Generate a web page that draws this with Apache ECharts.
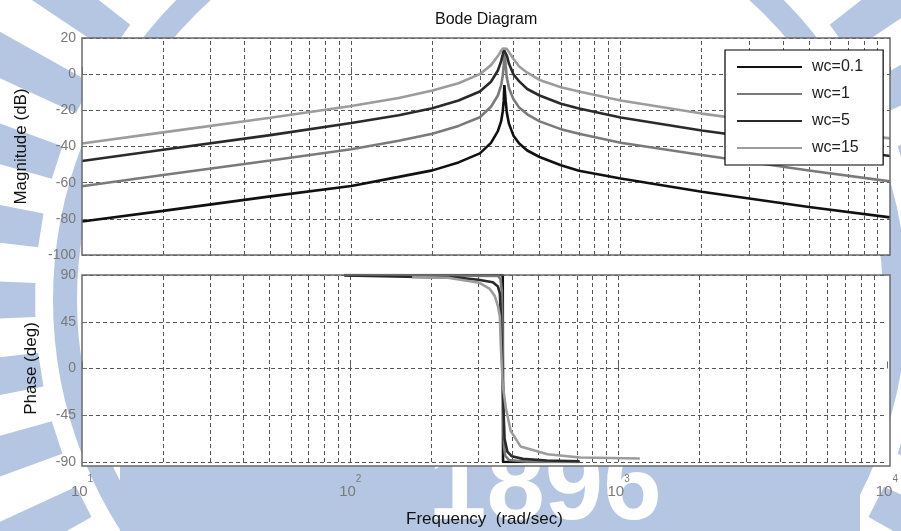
<!DOCTYPE html>
<html>
<head>
<meta charset="utf-8">
<title>Bode Diagram</title>
<script src="https://cdn.jsdelivr.net/npm/echarts@6/dist/echarts.min.js"></script>
<style>
  html, body { margin: 0; padding: 0; background: #fff; }
  #chart { width: 901px; height: 531px; }
</style>
</head>
<body>
<div id="chart"></div>
<script>
// legend names
var seriesNames = ['wc=0.1', 'wc=1', 'wc=5', 'wc=15'];
var seriesColors = ['#111111', '#7a7a7a', '#2a2a2a', '#9c9c9c'];

// dashed vertical grid at 2..9 of every decade (plus the decades)
var gridFreqs = [20, 30, 40, 50, 60, 70, 80, 90, 100,
                 200, 300, 400, 500, 600, 700, 800, 900, 1000,
                 2000, 3000, 4000, 5000, 6000, 7000, 8000, 9000];

// magnitude (dB), [freq rad/s, dB]
var magWc01 = [[10, -81.5], [20, -75.6], [50, -67.6], [100, -61.8], [150, -56.8], [200, -53.2],
               [250, -48.8], [300, -43.8], [330, -38], [350, -31.5], [360, -26], [365, -20.5],
               [368, -14.5], [370, -6], [372, -6], [374, -14.5], [378, -21.5], [385, -27.5],
               [400, -34], [420, -38.3], [450, -42.2], [500, -45.8], [600, -50.4], [700, -53.4],
               [1000, -57.7], [2000, -65], [5000, -73.5], [10000, -79.2]];
var magWc1 = [[10, -62], [20, -55.8], [50, -47.7], [100, -41.5], [150, -36.8], [200, -33],
              [250, -28.6], [300, -23.8], [330, -18], [350, -11.8], [360, -6], [365, -0.8],
              [368, 5], [370, 11], [371, 13], [372, 11], [374, 5], [378, -2], [385, -7.8],
              [400, -13.9], [420, -18.5], [450, -22.2], [500, -26.1], [600, -30.4], [700, -33],
              [1000, -37.9], [2000, -44.7], [5000, -53.3], [10000, -59.3]];
var magWc5 = [[10, -48], [20, -41.8], [50, -33.7], [100, -27], [150, -22.7], [200, -18.8],
              [250, -14.6], [300, -9.6], [330, -4.2], [350, 2], [360, 7.2], [365, 11],
              [368, 13.5], [371, 14], [374, 13.5], [378, 10.3], [385, 5.7], [400, -0.2],
              [420, -4], [450, -8.2], [500, -11.8], [600, -16.4], [700, -19], [1000, -24],
              [2000, -31.2], [5000, -39.2], [10000, -45.3]];
var magWc15 = [[10, -38.3], [20, -32.2], [50, -24.1], [100, -17.6], [150, -13.2], [200, -9],
               [250, -5], [300, 0], [330, 5], [350, 10], [360, 13], [365, 14.2], [371, 14.6],
               [378, 14], [385, 12.2], [400, 8.4], [420, 4.2], [450, 0.8], [500, -3.2],
               [600, -7.2], [700, -9.6], [1000, -14.6], [2000, -21.8], [5000, -29.8], [10000, -35.5]];

// phase (deg), [freq rad/s, deg]
var phWc01 = [[95, 90], [370, 90], [371, -90], [715, -90]];
var phWc1 = [[95, 90], [356, 89], [363, 86], [367, 75], [369, 45], [370, 10], [371, -25],
             [372, -55], [374, -76], [378, -84], [390, -88], [450, -89.5], [715, -90]];
var phWc5 = [[95, 89.5], [250, 87.5], [300, 85.5], [340, 83], [355, 79], [361, 72], [364, 50],
             [367, 20], [370, -12], [373, -45], [376, -68], [385, -80], [400, -84.5], [440, -87],
             [540, -88.5], [715, -89.3]];
var phWc15 = [[170, 88], [231, 87.3], [303, 82.5], [330, 77], [346, 69.5], [355, 60], [361, 50],
              [364, 22], [370, -16], [380, -38], [396, -60], [431, -75], [486, -79], [543, -82.5],
              [720, -85.6], [1200, -86.6]];

var magData = [magWc01, magWc1, magWc5, magWc15];
var phData = [phWc01, phWc1, phWc5, phWc15];

var font = 'Liberation Sans, Arial, sans-serif';
var blue = '#b5c6e3';
var gridColor = '#555';

var chart = echarts.init(document.getElementById('chart'));

// watermark seal behind the plots
var wm = [];
var cx = 480, cy = 300;
wm.push({ type: 'circle', silent: true, z: -20,
          shape: { cx: cx, cy: cy, r: 415 },
          style: { fill: 'none', stroke: blue, lineWidth: 24 } });
for (var a = 0; a < 360; a += 9) {
    var r1 = 445, r2 = 620, h = 2.2 * Math.PI / 180, t = a * Math.PI / 180;
    wm.push({ type: 'polygon', silent: true, z: -20,
              shape: { points: [
                  [cx + r1 * Math.cos(t - h), cy + r1 * Math.sin(t - h)],
                  [cx + r2 * Math.cos(t - h), cy + r2 * Math.sin(t - h)],
                  [cx + r2 * Math.cos(t + h), cy + r2 * Math.sin(t + h)],
                  [cx + r1 * Math.cos(t + h), cy + r1 * Math.sin(t + h)]] },
              style: { fill: blue } });
}
wm.push({ type: 'rect', silent: true, z: -19, shape: { x: 120, y: 466, width: 740, height: 65 },
          style: { fill: blue } });
wm.push({ type: 'text', silent: true, z: -18, x: 428, y: 543,
          style: { text: '1896', font: 'bold 105px ' + font, fill: '#fff',
                   textAlign: 'left', textVerticalAlign: 'bottom' } });

// plot backgrounds and frames
var plotRects = [{ x: 82, y: 38, width: 808, height: 217 }, { x: 82, y: 275, width: 808, height: 191 }];
plotRects.forEach(function (r) {
    wm.push({ type: 'rect', silent: true, z: -5, shape: r, style: { fill: '#fff' } });
    wm.push({ type: 'rect', silent: true, z: 10, shape: r,
              style: { fill: 'none', stroke: '#6a6a6a', lineWidth: 1.5 } });
});

function gridSeries(idx) {
    return {
        type: 'line', name: '', data: [], xAxisIndex: idx, yAxisIndex: idx, silent: true,
        markLine: {
            silent: true, z: 1, symbol: ['none', 'none'], label: { show: false },
            lineStyle: { color: gridColor, width: 1, type: [4, 3] },
            emphasis: { disabled: true },
            data: gridFreqs.map(function (f) { return { xAxis: f }; })
        }
    };
}

var series = [gridSeries(0), gridSeries(1)];
seriesNames.forEach(function (n, i) {
    series.push({
        name: n, type: 'line', xAxisIndex: 0, yAxisIndex: 0, data: magData[i],
        showSymbol: false, z: 3, color: seriesColors[i],
        lineStyle: { color: seriesColors[i], width: 2.6 }
    });
    series.push({
        name: n, type: 'line', xAxisIndex: 1, yAxisIndex: 1, data: phData[i],
        showSymbol: false, z: 3, color: seriesColors[i],
        lineStyle: { color: seriesColors[i], width: 2.6 }
    });
});

function logAxis(idx, showLabel) {
    return {
        type: 'log', logBase: 10, min: 10, max: 10000, gridIndex: idx,
        axisLine: { show: false },
        axisTick: { show: true, inside: true, length: 7, lineStyle: { color: '#6a6a6a' } },
        splitLine: { show: false },
        axisLabel: {
            show: showLabel, margin: 12,
            formatter: function (v) { return '{b|10}{s|' + Math.round(Math.log10(v)) + '}'; },
            rich: {
                b: { fontSize: 15, color: '#7a7a7a', fontFamily: font, verticalAlign: 'bottom' },
                s: { fontSize: 10, color: '#7a7a7a', fontFamily: font, verticalAlign: 'bottom', padding: [0, 0, 15, 0] }
            }
        },
        name: showLabel ? 'Frequency  (rad/sec)' : '',
        nameLocation: 'middle', nameGap: 49,
        nameTextStyle: { fontSize: 17, color: '#111', fontFamily: font }
    };
}

function valAxis(idx, min, max, step, title, gap) {
    return {
        type: 'value', gridIndex: idx, min: min, max: max, interval: step,
        axisLine: { show: false },
        axisTick: { show: true, inside: true, length: 5, lineStyle: { color: '#6a6a6a' } },
        splitLine: { show: true, lineStyle: { color: gridColor, width: 1, type: [4, 3] } },
        axisLabel: { margin: 6, fontSize: 14, color: '#7a7a7a', fontFamily: font },
        name: title, nameLocation: 'middle', nameGap: gap,
        nameTextStyle: { fontSize: 17, color: '#111', fontFamily: font }
    };
}

var option = {
    backgroundColor: '#fff',
    animation: false,
    title: {
        text: 'Bode Diagram', left: 430, top: 7,
        textStyle: { fontSize: 16, fontWeight: 'normal', color: '#111', fontFamily: font }
    },
    legend: {
        data: seriesNames, orient: 'vertical', left: 725, top: 50,
        padding: [8, 20, 8, 12], itemWidth: 65, itemHeight: 2, itemGap: 9, icon: 'rect',
        backgroundColor: '#fff', borderColor: '#000', borderWidth: 1.2,
        textStyle: { fontSize: 16, lineHeight: 18, color: '#222', fontFamily: font, padding: [0, 0, 0, 5] }
    },
    graphic: wm,
    grid: [
        { left: 82, width: 808, top: 38, height: 217 },
        { left: 82, width: 808, top: 275, height: 187 }
    ],
    xAxis: [logAxis(0, false), logAxis(1, true)],
    yAxis: [
        valAxis(0, -100, 20, 20, 'Magnitude (dB)', 52),
        valAxis(1, -90, 90, 45, 'Phase (deg)', 42)
    ],
    series: series
};

chart.setOption(option);
</script>
</body>
</html>
